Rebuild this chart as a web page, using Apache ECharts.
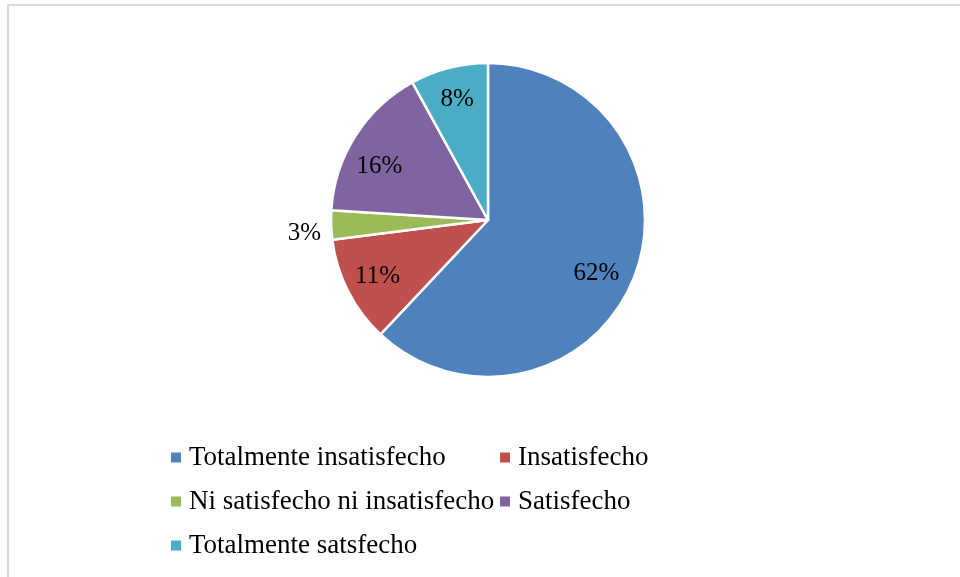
<!DOCTYPE html>
<html>
<head>
<meta charset="utf-8">
<script src="https://cdn.jsdelivr.net/npm/echarts@6/dist/echarts.min.js"></script>
<style>
  html, body { margin: 0; padding: 0; background: #fff; }
  #chart { width: 960px; height: 577px; }
</style>
</head>
<body>
<div id="chart"></div>
<script>
// Nivel de satisfacción (porcentaje de respuestas)
const categories = [
  'Totalmente insatisfecho',
  'Insatisfecho',
  'Ni satisfecho ni insatisfecho',
  'Satisfecho',
  'Totalmente satsfecho'
];
const values = [62, 11, 3, 16, 8];
const colors = ['#4F81BD', '#C0504D', '#9BBB59', '#8064A2', '#4BACC6'];

// Fine placement of the in-slice labels (pixels), keyed by slice index
const labelNudge = { 0: [-7, 8], 3: [-4, 13] };

const serif = "'Liberation Serif', 'Times New Roman', serif";
const center = [488, 220];
const radius = 157;

const sliceData = categories.map((name, i) => ({
  name,
  value: values[i],
  itemStyle: { color: colors[i] }
}));

// Transparent ring used only to place the percentage labels
const labelData = categories.map((name, i) => {
  const item = { name, value: values[i] };
  if (values[i] < 5) {
    item.label = { position: 'outside', offset: [0, 8] };
    item.labelLine = { show: false, length: 5, length2: 0 };
  } else if (labelNudge[i]) {
    item.label = { offset: labelNudge[i] };
  }
  return item;
});

const legendText = {
  fontFamily: serif,
  fontSize: 27,
  color: '#000',
  lineHeight: 27,
  padding: [0, 0, 0, 2]
};

const legendBase = {
  orient: 'vertical',
  top: 444,
  padding: 0,
  itemWidth: 12,
  itemHeight: 12,
  itemGap: 17,
  icon: 'rect',
  selectedMode: false,
  textStyle: legendText
};

const chart = echarts.init(document.getElementById('chart'));
chart.setOption({
  animation: false,
  backgroundColor: '#fff',
  graphic: [{
    type: 'rect',
    shape: { x: 8, y: 5, width: 1000, height: 1000 },
    style: { fill: 'none', stroke: '#d9d9d9', lineWidth: 2 },
    silent: true
  }],
  legend: [
    Object.assign({}, legendBase, {
      left: 169,
      data: [categories[0], categories[2], categories[4]]
    }),
    Object.assign({}, legendBase, {
      left: 498,
      data: [categories[1], categories[3]]
    })
  ],
  series: [
    {
      type: 'pie',
      center: center,
      radius: [0, radius],
      startAngle: 90,
      clockwise: true,
      avoidLabelOverlap: false,
      silent: true,
      label: { show: false },
      labelLine: { show: false },
      itemStyle: { borderColor: '#fff', borderWidth: 2.5 },
      data: sliceData
    },
    {
      type: 'pie',
      center: center,
      radius: [85, radius],
      startAngle: 90,
      clockwise: true,
      avoidLabelOverlap: false,
      silent: true,
      legendHoverLink: false,
      itemStyle: { color: 'rgba(0,0,0,0)' },
      label: {
        show: true,
        position: 'inside',
        formatter: '{c}%',
        fontFamily: serif,
        fontSize: 25,
        color: '#000'
      },
      labelLine: { show: false },
      data: labelData
    }
  ]
});
</script>
</body>
</html>
